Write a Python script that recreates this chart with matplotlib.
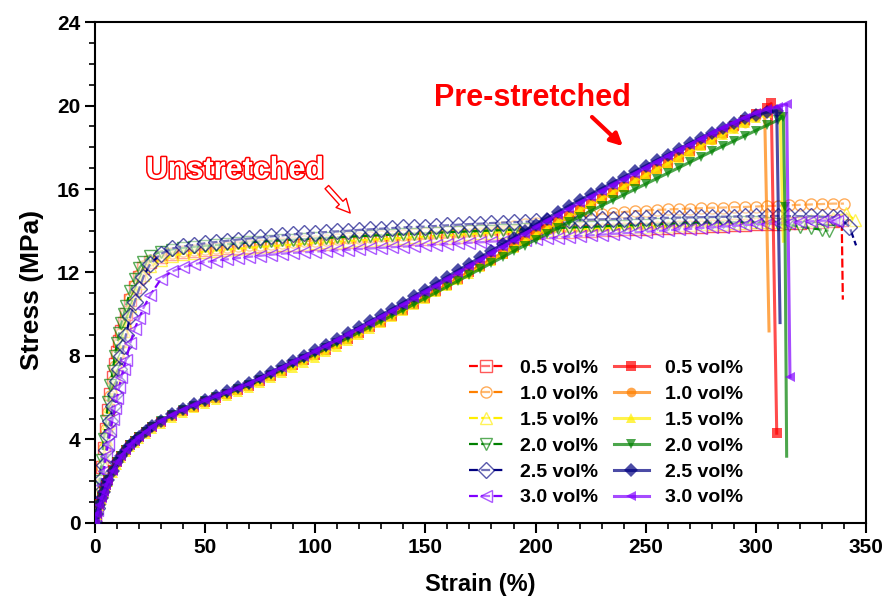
import matplotlib
matplotlib.use("Agg")
import matplotlib.pyplot as plt
import matplotlib.patheffects as pe
from matplotlib.colors import to_rgba
from matplotlib.ticker import MultipleLocator

plt.rcParams['font.family'] = ['Liberation Sans', 'DejaVu Sans']
plt.rcParams['font.weight'] = 'bold'

labels = ["0.5 vol%", "1.0 vol%", "1.5 vol%", "2.0 vol%", "2.5 vol%", "3.0 vol%"]
colors = ["#ff0000", "#ff8000", "#ffee00", "#008000", "#000080", "#8000ff"]
open_marks = ["s", "o", "^", "v", "D", "<"]
filled_marks = ["s", "o", "^", "v", "D", "<"]

# strain grid for the unstretched samples (%)
strain_u = [0, 1, 2, 3, 4, 5, 6, 7, 8, 9, 10, 11, 12, 13, 14, 16, 18, 20, 22, 25, 30, 35,
            40, 45, 50, 55, 60, 65, 70, 75, 80, 85, 90, 95, 100, 105, 110, 115, 120, 125,
            130, 135, 140, 145, 150, 155, 160, 165, 170, 175, 180, 185, 190, 195, 200, 205,
            210, 215, 220, 225, 230, 235, 240, 245, 250, 255, 260, 265, 270, 275, 280, 285,
            290, 295, 300, 305, 310, 315, 320, 325, 330, 335]

# unstretched stress (MPa)
u_05 = [0, 0.9, 1.8, 2.7, 3.6, 4.5, 5.4, 6.2, 7.0, 7.6, 8.2, 8.7, 9.2, 9.6, 10.0,
        10.7, 11.3, 11.8, 12.2, 12.5, 12.75, 12.9,
        13.0, 13.05, 13.1, 13.13, 13.16, 13.19, 13.22, 13.25, 13.27, 13.3,
        13.32, 13.34, 13.36, 13.38, 13.41, 13.44, 13.47, 13.5, 13.52, 13.55,
        13.57, 13.59, 13.61, 13.64, 13.67, 13.7, 13.73, 13.76, 13.8, 13.83,
        13.86, 13.88, 13.9, 13.92, 13.94, 13.96, 13.98, 14.0, 14.02, 14.04,
        14.06, 14.08, 14.1, 14.12, 14.14, 14.16, 14.18, 14.2, 14.22, 14.24,
        14.26, 14.28, 14.3, 14.32, 14.34, 14.36, 14.38, 14.4, 14.42, 14.45]
u_10 = [0, 0.9, 1.8, 2.7, 3.6, 4.5, 5.3, 6.1, 6.8, 7.5, 8.1, 8.6, 9.1, 9.6, 10.0,
        10.8, 11.4, 11.9, 12.3, 12.6, 12.8, 12.95,
        13.05, 13.1, 13.14, 13.18, 13.22, 13.26, 13.3, 13.34, 13.38, 13.42,
        13.46, 13.5, 13.53, 13.56, 13.6, 13.63, 13.67, 13.7, 13.74, 13.77,
        13.81, 13.85, 13.89, 13.93, 13.97, 14.01, 14.05, 14.1, 14.15, 14.2,
        14.25, 14.3, 14.36, 14.43, 14.5, 14.58, 14.66, 14.74, 14.8, 14.86,
        14.9, 14.94, 14.97, 15.0, 15.02, 15.04, 15.06, 15.08, 15.1, 15.11,
        15.13, 15.14, 15.16, 15.18, 15.2, 15.22, 15.24, 15.26, 15.28, 15.3]
u_15 = [0, 0.8, 1.6, 2.4, 3.2, 4.0, 4.8, 5.6, 6.3, 7.0, 7.6, 8.2, 8.7, 9.2, 9.6,
        10.4, 11.0, 11.5, 11.9, 12.3, 12.6, 12.8,
        12.9, 12.95, 13.0, 13.05, 13.1, 13.14, 13.18, 13.22, 13.26, 13.3,
        13.34, 13.38, 13.42, 13.45, 13.48, 13.51, 13.54, 13.57, 13.6, 13.63,
        13.66, 13.69, 13.72, 13.75, 13.78, 13.81, 13.84, 13.87, 13.9, 13.93,
        13.95, 13.97, 14.0, 14.02, 14.04, 14.06, 14.08, 14.1, 14.12, 14.14,
        14.16, 14.18, 14.2, 14.22, 14.24, 14.26, 14.28, 14.3, 14.32, 14.34,
        14.36, 14.38, 14.4, 14.42, 14.44, 14.46, 14.48, 14.5, 14.53, 14.6]
u_20 = [0, 1.0, 2.0, 3.0, 4.0, 4.9, 5.8, 6.6, 7.3, 8.0, 8.6, 9.1, 9.6, 10.0, 10.4,
        11.1, 11.7, 12.2, 12.5, 12.8, 13.0, 13.1,
        13.18, 13.23, 13.28, 13.32, 13.36, 13.4, 13.44, 13.48, 13.51, 13.54,
        13.57, 13.6, 13.63, 13.66, 13.68, 13.71, 13.74, 13.76, 13.79, 13.81,
        13.84, 13.86, 13.88, 13.9, 13.93, 13.95, 13.97, 13.99, 14.01, 14.03,
        14.05, 14.07, 14.09, 14.11, 14.13, 14.15, 14.17, 14.19, 14.21, 14.23,
        14.25, 14.27, 14.29, 14.31, 14.33, 14.35, 14.37, 14.38, 14.39, 14.4,
        14.41, 14.41, 14.4, 14.38, 14.34, 14.28, 14.2, 14.12, 14.05]
u_25 = [0, 0.7, 1.4, 2.1, 2.8, 3.5, 4.2, 4.9, 5.6, 6.2, 6.8, 7.4, 8.0, 8.5, 9.0,
        9.9, 10.6, 11.2, 11.8, 12.4, 12.9, 13.15,
        13.25, 13.32, 13.4, 13.46, 13.52, 13.58, 13.63, 13.68, 13.73, 13.78,
        13.83, 13.87, 13.9, 13.94, 13.97, 14.0, 14.04, 14.07, 14.1, 14.13,
        14.16, 14.18, 14.2, 14.23, 14.26, 14.29, 14.32, 14.34, 14.37, 14.39,
        14.41, 14.43, 14.45, 14.47, 14.48, 14.5, 14.52, 14.53, 14.55, 14.56,
        14.58, 14.59, 14.6, 14.61, 14.62, 14.63, 14.64, 14.65, 14.66, 14.67,
        14.68, 14.69, 14.7, 14.7, 14.71, 14.7, 14.7, 14.69, 14.67, 14.65]
u_30 = [0, 0.6, 1.2, 1.8, 2.5, 3.2, 3.8, 4.4, 5.0, 5.5, 6.0, 6.5, 7.0, 7.4, 7.8,
        8.6, 9.3, 9.8, 10.3, 10.9, 11.7, 12.05,
        12.25, 12.4, 12.5, 12.57, 12.63, 12.69, 12.75, 12.8, 12.85, 12.9,
        12.94, 12.97, 13.0, 13.03, 13.06, 13.09, 13.12, 13.15, 13.18, 13.21,
        13.24, 13.27, 13.3, 13.33, 13.36, 13.39, 13.42, 13.45, 13.48, 13.51,
        13.54, 13.57, 13.6, 13.64, 13.67, 13.71, 13.74, 13.78, 13.81, 13.85,
        13.88, 13.92, 13.95, 13.99, 14.02, 14.06, 14.09, 14.13, 14.16, 14.2,
        14.23, 14.27, 14.3, 14.33, 14.36, 14.39, 14.42, 14.45, 14.48, 14.5]

# end of each unstretched test (strain, stress) up to fracture
u_tail_strain = [[339, 339.5], [340], [341, 345], [333], [338, 342.5, 345.5], [337]]
u_tail_stress = [[14.5, 10.7], [15.3], [14.85, 14.5], [14.0], [14.6, 14.2, 13.3], [14.45]]
# fracture points drawn without a symbol
u_bare_end = [True, False, False, False, True, False]

# strain grid for the pre-stretched samples (%)
strain_p = [0, 1, 2, 3, 4, 5, 6, 8, 10, 12, 14, 16, 18, 20, 23, 26, 30, 35,
            40, 45, 50, 55, 60, 65, 70, 75, 80, 85, 90, 95, 100, 105, 110, 115, 120, 125,
            130, 135, 140, 145, 150, 155, 160, 165, 170, 175, 180, 185, 190, 195, 200, 205,
            210, 215, 220, 225, 230, 235, 240, 245, 250, 255, 260, 265, 270, 275, 280, 285,
            290, 295, 300, 305]

# pre-stretched stress (MPa)
p_05 = [0, 0.5, 0.9, 1.25, 1.55, 1.82, 2.08, 2.52, 2.9, 3.22, 3.5, 3.74, 3.94, 4.1, 4.35, 4.58, 4.85, 5.12,
        5.37, 5.58, 5.79, 5.98, 6.16, 6.35, 6.55, 6.8, 7.05, 7.3, 7.55, 7.8, 8.05, 8.31, 8.57, 8.83,
        9.1, 9.37, 9.65, 9.93, 10.21, 10.5, 10.8,
        11.1, 11.4, 11.7, 12.0, 12.3, 12.6, 12.9, 13.2, 13.5, 13.8,
        14.1, 14.4, 14.7, 14.98, 15.26, 15.54, 15.82, 16.1, 16.38, 16.67,
        16.96, 17.25, 17.53, 17.82, 18.1, 18.4, 18.7, 19.0, 19.3, 19.6, 19.9]
p_10 = [0, 0.45, 0.85, 1.2, 1.5, 1.8, 2.05, 2.5, 2.9, 3.22, 3.5, 3.75, 3.95, 4.12, 4.37, 4.6, 4.87, 5.15,
        5.4, 5.62, 5.83, 6.02, 6.2, 6.4, 6.6, 6.85, 7.1, 7.35, 7.6, 7.85, 8.1, 8.36, 8.62, 8.88,
        9.15, 9.42, 9.7, 9.98, 10.26, 10.55, 10.85,
        11.15, 11.45, 11.75, 12.05, 12.35, 12.65, 12.95, 13.25, 13.55, 13.85,
        14.15, 14.45, 14.74, 15.02, 15.3, 15.58, 15.86, 16.14, 16.42, 16.7,
        16.98, 17.26, 17.54, 17.82, 18.1, 18.37, 18.64, 18.91, 19.18, 19.45]
p_15 = [0, 0.4, 0.8, 1.12, 1.42, 1.7, 1.95, 2.4, 2.78, 3.1, 3.38, 3.62, 3.83, 4.0, 4.25, 4.48, 4.75, 5.03,
        5.28, 5.5, 5.71, 5.9, 6.08, 6.27, 6.46, 6.7, 6.94, 7.18, 7.42, 7.67, 7.92, 8.18, 8.45, 8.72,
        9.0, 9.28, 9.57, 9.86, 10.15, 10.45, 10.75,
        11.05, 11.35, 11.65, 11.95, 12.25, 12.56, 12.87, 13.18, 13.49, 13.8,
        14.1, 14.4, 14.69, 14.98, 15.26, 15.54, 15.82, 16.1, 16.38, 16.66,
        16.94, 17.22, 17.5, 17.78, 18.06, 18.33, 18.6, 18.87, 19.14, 19.4, 19.62]
p_20 = [0, 0.45, 0.85, 1.2, 1.5, 1.8, 2.05, 2.5, 2.9, 3.22, 3.5, 3.75, 3.95, 4.12, 4.37, 4.6, 4.87, 5.15,
        5.4, 5.62, 5.83, 6.02, 6.2, 6.4, 6.6, 6.85, 7.1, 7.35, 7.6, 7.85, 8.1, 8.36, 8.62, 8.88,
        9.14, 9.4, 9.67, 9.94, 10.21, 10.49, 10.77,
        11.05, 11.33, 11.61, 11.89, 12.17, 12.45, 12.73, 13.01, 13.29, 13.57,
        13.85, 14.13, 14.4, 14.67, 14.94, 15.2, 15.46, 15.72, 15.98, 16.24,
        16.5, 16.76, 17.02, 17.28, 17.54, 17.8, 18.05, 18.3, 18.55, 18.8, 19.05]
p_25 = [0, 0.45, 0.85, 1.2, 1.5, 1.8, 2.05, 2.5, 2.9, 3.22, 3.5, 3.75, 3.95, 4.13, 4.39, 4.63, 4.9, 5.2,
        5.45, 5.68, 5.9, 6.1, 6.3, 6.51, 6.72, 6.98, 7.24, 7.5, 7.76, 8.02, 8.28, 8.55, 8.82, 9.1,
        9.38, 9.67, 9.96, 10.26, 10.56, 10.87, 11.18,
        11.49, 11.8, 12.11, 12.42, 12.73, 13.04, 13.35, 13.66, 13.97, 14.28,
        14.58, 14.88, 15.18, 15.46, 15.74, 16.02, 16.3, 16.57, 16.84, 17.11,
        17.38, 17.65, 17.92, 18.19, 18.45, 18.7, 18.94, 19.17, 19.38, 19.56, 19.68]
p_30 = [0, 0.45, 0.85, 1.2, 1.5, 1.8, 2.05, 2.5, 2.9, 3.22, 3.5, 3.75, 3.95, 4.13, 4.38, 4.62, 4.89, 5.18,
        5.43, 5.65, 5.87, 6.07, 6.26, 6.46, 6.67, 6.92, 7.18, 7.44, 7.7, 7.96, 8.22, 8.49, 8.76, 9.03,
        9.31, 9.59, 9.88, 10.17, 10.46, 10.76, 11.06,
        11.37, 11.68, 11.99, 12.3, 12.61, 12.92, 13.23, 13.54, 13.85, 14.16,
        14.46, 14.76, 15.05, 15.34, 15.62, 15.9, 16.18, 16.46, 16.74, 17.02,
        17.3, 17.58, 17.86, 18.13, 18.4, 18.67, 18.93, 19.18, 19.42, 19.64, 19.82]

p_tail_strain = [[307, 309.5], [304, 306], [311, 312.5], [310, 312.5, 313.2, 314],
                 [309.5, 311], [310, 314, 315.5]]
p_tail_stress = [[20.1, 4.3], [19.7, 9.2], [19.75, 13.5], [19.3, 19.45, 15.15, 3.2],
                 [19.75, 9.6], [19.95, 20.05, 7.0]]
p_bare_end = [False, True, True, True, True, False]

unstretched = [u_05, u_10, u_15, u_20, u_25, u_30]
prestretched = [p_05, p_10, p_15, p_20, p_25, p_30]

fig = plt.figure(figsize=(8.83, 6.03), dpi=100)
ax = fig.add_axes([0.1076, 0.1327, 0.8731, 0.8308])


def marks(n, bare_end):
    return list(range(n - 1)) if bare_end else list(range(n))


handles_u = []
for i, ys in enumerate(unstretched):
    xs = strain_u[:len(ys)] + u_tail_strain[i]
    ys = ys + u_tail_stress[i]
    ln, = ax.plot(xs, ys, color=colors[i], lw=1.6, ls=(0, (4, 1.5)),
                  marker=open_marks[i], ms=8, mew=1.0,
                  markevery=marks(len(xs), u_bare_end[i]),
                  mec=to_rgba(colors[i], 0.65), mfc=(1, 1, 1, 0.45), zorder=2)
    handles_u.append(ln)

handles_p = []
for i, ys in enumerate(prestretched):
    xs = strain_p[:len(ys)] + p_tail_strain[i]
    ys = ys + p_tail_stress[i]
    ln, = ax.plot(xs, ys, color=colors[i], lw=2.2, alpha=0.7,
                  marker=filled_marks[i], ms=7, mew=0,
                  markevery=marks(len(xs), p_bare_end[i]), zorder=3)
    handles_p.append(ln)

ax.set_xlim(0, 350)
ax.set_ylim(0, 24)
ax.xaxis.set_major_locator(MultipleLocator(50))
ax.xaxis.set_minor_locator(MultipleLocator(10))
ax.yaxis.set_major_locator(MultipleLocator(4))
ax.yaxis.set_minor_locator(MultipleLocator(1))
ax.tick_params(which='major', direction='out', length=7, width=1.5, labelsize=15)
ax.tick_params(which='minor', direction='out', length=4, width=1.2)
for sp in ax.spines.values():
    sp.set_linewidth(1.5)
for lab in ax.get_xticklabels() + ax.get_yticklabels():
    lab.set_fontweight('bold')

ax.set_xlabel("Strain (%)", fontsize=17, fontweight='bold', labelpad=12)
ax.set_ylabel("Stress (MPa)", fontsize=19, fontweight='bold')
ax.yaxis.set_label_coords(-0.066, 0.465)

leg = ax.legend(handles_u + handles_p, labels + labels, ncol=2, frameon=False,
                loc='lower right', bbox_to_anchor=(0.864, -0.002),
                prop={'size': 14, 'weight': 'bold'}, handlelength=1.8,
                handletextpad=0.85, columnspacing=0.8, labelspacing=0.43)

ax.text(198.8, 20.36, "Pre-stretched", color='red', fontsize=22,
        fontweight='bold', ha='center', va='center')
ax.annotate("", xy=(240.6, 17.96), xytext=(224.7, 19.54),
            arrowprops=dict(arrowstyle='-|>', color='red', lw=3, mutation_scale=18))

txt = ax.text(63.5, 16.9, "Unstretched", color='white', fontsize=22,
              fontweight='bold', ha='center', va='center')
txt.set_path_effects([pe.withStroke(linewidth=2.2, foreground='red')])
ax.annotate("", xy=(116.7, 14.75), xytext=(104.4, 16.19),
            arrowprops=dict(arrowstyle='simple,head_length=0.7,head_width=0.7,tail_width=0.25',
                            fc='white', ec='red', lw=1, mutation_scale=14))

fig.savefig("out.png", dpi=100)
